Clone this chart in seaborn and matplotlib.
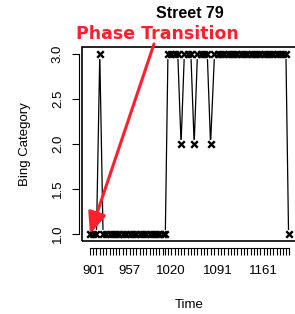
import matplotlib
matplotlib.use("Agg")
import matplotlib.pyplot as plt
import seaborn as sns
import pandas as pd
from matplotlib.patches import Rectangle

# observation times (x) and Bing category (y)
times = [896, 901, 906, 911, 916, 921, 926, 931, 936, 941, 946, 951, 957,
         962, 967, 972, 977, 982, 987, 992, 997, 1002, 1007, 1011, 1015, 1020,
         1025, 1030, 1035, 1040, 1045, 1050, 1055, 1060, 1065, 1070, 1075, 1080, 1086, 1091,
         1096, 1101, 1106, 1111, 1116, 1121, 1126, 1131, 1136, 1141, 1146, 1151, 1156, 1161,
         1166, 1171, 1176, 1181, 1186, 1191, 1195, 1199]
category = [1, 1, 1, 3, 1, 1, 1, 1, 1, 1, 1, 1, 1,
            1, 1, 1, 1, 1, 1, 1, 1, 1, 1, 1, 3, 3,
            3, 3, 2, 3, 3, 3, 2, 3, 3, 3, 3, 2, 3, 3,
            3, 3, 3, 3, 3, 3, 3, 3, 3, 3, 3, 3, 3, 3,
            3, 3, 3, 3, 3, 3, 3, 1]
time_labels = [901, 957, 1020, 1091, 1161]
y_ticks = [1.0, 1.5, 2.0, 2.5, 3.0]

df = pd.DataFrame({"Time": times, "Bing": category})

sns.set_style("white")
plt.rcParams["font.family"] = ["Liberation Sans", "DejaVu Sans"]
plt.rcParams["text.color"] = "black"
plt.rcParams["axes.labelcolor"] = "black"
plt.rcParams["xtick.color"] = "black"
plt.rcParams["ytick.color"] = "black"

W, H = 295, 314
fig = plt.figure(figsize=(W / 100, H / 100), dpi=100)
ax = fig.add_axes([82 / W, (H - 241) / H, (296.5 - 82) / W, (241 - 47) / H])

sns.lineplot(data=df, x="Time", y="Bing", color="black", linewidth=0.9, ax=ax, zorder=2)
# white disks leave R-style gaps around the points (type = "b")
sns.scatterplot(data=df, x="Time", y="Bing", color="white", s=45, linewidth=0, ax=ax, zorder=3)
sns.scatterplot(data=df, x="Time", y="Bing", color="black", marker="x", s=22,
                linewidth=1.7, ax=ax, zorder=4)

xr = max(times) - min(times)
ax.set_xlim(min(times) - 0.04 * xr, max(times) + 0.04 * xr)
ax.set_ylim(1 - 0.08, 3 + 0.08)

for s in ax.spines.values():
    s.set_visible(False)
ax.add_patch(Rectangle((0, 0), 1, 1, transform=ax.transAxes, fill=False,
                       edgecolor="black", linewidth=1.2, clip_on=False, zorder=5))
ax.spines["bottom"].set_visible(True)
ax.spines["bottom"].set_position(("outward", 5))
ax.spines["bottom"].set_bounds(min(times), max(times))
ax.spines["bottom"].set_linewidth(0.8)
ax.spines["bottom"].set_color("black")
ax.spines["left"].set_visible(True)
ax.spines["left"].set_position(("outward", 2))
ax.spines["left"].set_bounds(1, 3)
ax.spines["left"].set_linewidth(0.8)
ax.spines["left"].set_color("black")

ax.set_xticks(times)
ax.set_xticklabels([str(t) if t in time_labels else "" for t in times], fontsize=9.5)
ax.set_yticks(y_ticks)
ax.set_yticklabels([f"{v:.1f}" for v in y_ticks], rotation=90, va="center", fontsize=9.5)
ax.tick_params(axis="x", direction="out", length=5, width=0.8, pad=7, bottom=True)
ax.tick_params(axis="y", direction="out", length=5, width=0.8, pad=6, left=True)

ax.set_xlabel("Time", fontsize=9.5, labelpad=16)
ax.set_ylabel("Bing Category", fontsize=9.5, labelpad=15)
ax.grid(False)

fig.text(190 / W, 1 - 13 / H, "Street 79", ha="center", va="center",
         fontsize=11.5, fontweight="bold")
fig.text(157 / W, 1 - 34 / H, "Phase Transition", ha="center", va="center",
         fontsize=12.5, fontweight="heavy", color="#ff1f2d", family=["DejaVu Sans"])
ax.annotate("", xy=(90 / W, 1 - 234 / H), xycoords="figure fraction",
            xytext=(154 / W, 1 - 44 / H), textcoords="figure fraction",
            arrowprops=dict(arrowstyle="-|>,head_length=1.3,head_width=0.55",
                            color="#ff1f2d", lw=2.2, shrinkA=0, shrinkB=0),
            annotation_clip=False, zorder=10)

fig.savefig("out.png", dpi=100)
